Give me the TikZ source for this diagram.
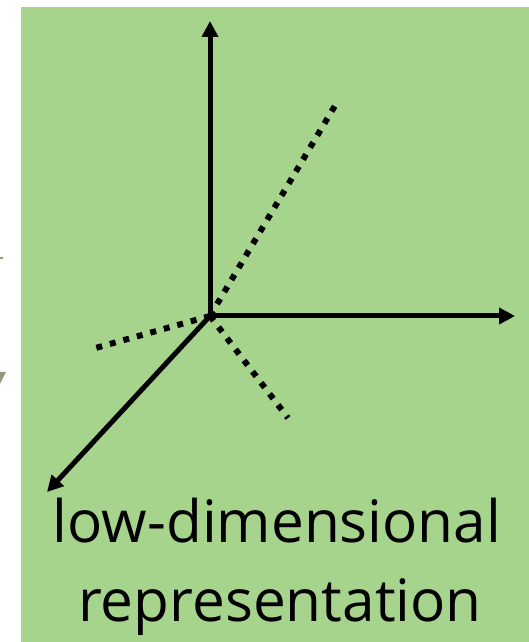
\documentclass[tikz,border=0pt]{standalone}
\usepackage{fontspec}
\setmainfont{Open Sans}
\usetikzlibrary{arrows.meta}
\definecolor{bg}{HTML}{A6D48C}
\definecolor{frag}{HTML}{8C9C7C}
\begin{document}
\begin{tikzpicture}[x=1pt,y=1pt,
  axis/.style={line width=5pt, -{Triangle[length=16pt,width=16pt]}},
  dotline/.style={line width=6pt, dash pattern=on 6pt off 8pt},
  lbl/.style={anchor=base, inner sep=0pt, font=\fontsize{58.5}{66}\selectfont}]
\useasboundingbox (0,0) rectangle (529,642);
\fill[bg] (21,0) rectangle (529,635);
% fragments at left edge
\draw[frag, line width=1.5pt] (0,384) -- (3,384);
\fill[frag] (0,270) -- (6,270) -- (0,258) -- cycle;
\coordinate (O) at (210,326);
\coordinate (up) at (210,621);
\coordinate (right) at (515,326);
\coordinate (dl) at (47,150);
\coordinate (d1) at (336,538);
\coordinate (d2) at (92,293);
\coordinate (d3) at (288,224);
\draw[dotline] (O) -- (d1);
\draw[dotline] (O) -- (d2);
\draw[dotline] (O) -- (d3);
\draw[axis] (O) -- (up);
\draw[axis] (O) -- (right);
\draw[axis] (O) -- (dl);
\node[lbl] (t1) at (277,99) {low-dimensional};
\node[lbl] (t2) at (280,20) {representation};
\end{tikzpicture}
\end{document}
